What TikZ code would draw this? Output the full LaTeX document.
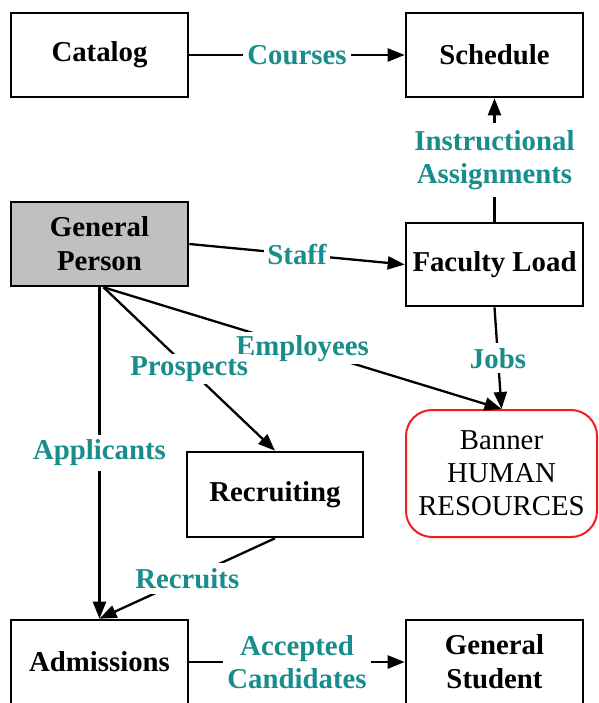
\documentclass[tikz,border=0pt]{standalone}
\usepackage{fontspec}
\setmainfont{Liberation Serif}
\usetikzlibrary{arrows.meta}
\definecolor{flowteal}{RGB}{25,140,140}
\definecolor{boxgray}{RGB}{192,192,192}
\definecolor{bannerred}{RGB}{240,30,30}
\begin{document}
\begin{tikzpicture}[x=1pt,y=-1pt,
  entity/.style={draw=black, line width=2.6pt, fill=white,
    minimum width=177pt, minimum height=84pt, align=center, inner sep=0pt,
    font=\fontsize{28.8}{34}\selectfont\bfseries},
  system/.style={draw=bannerred, line width=2pt, rounded corners=26pt, fill=white,
    minimum width=191pt, minimum height=127pt, align=center, inner sep=0pt,
    font=\fontsize{28.8}{33}\selectfont},
  flow/.style={line width=2.3pt, -{Triangle[length=17pt,width=13pt]}},
  lbl/.style={fill=white, text=flowteal, align=center, inner sep=4pt,
    font=\fontsize{28.8}{33}\selectfont\bfseries},
  ]
  \useasboundingbox (0,0) rectangle (598,703);
  \clip (0,0) rectangle (598,703);

  % data stores / modules
  \node[entity] (cat)   at (99.5,55)    {Catalog};
  \node[entity] (sched) at (494.5,55)   {Schedule};
  \node[entity, fill=boxgray] (gp) at (99.5,244) {General\\Person};
  \node[entity, minimum height=83pt] (fl) at (494.5,264.5) {Faculty Load};
  \node[entity, minimum width=176pt, minimum height=85pt] (rec) at (275,494.5) {Recruiting};
  \node[system] (hr) at (501.5,473.5) {Banner\\HUMAN\\RESOURCES};
  \node[entity] (adm)   at (99.5,662)   {Admissions};
  \node[entity] (gs)    at (494.5,662)  {General\\Student};

  % fan-out point under General Person
  \coordinate (fan) at ([xshift=4pt]gp.south);

  % flows
  \draw[flow] (cat.east) -- node[lbl] {Courses} (sched.west);
  \draw[flow] (fl.north) -- node[lbl, inner sep=7pt] {Instructional\\Assignments} (sched.south);
  \draw[flow] (gp.east) -- node[lbl, inner sep=3pt] {Staff} (fl.west);
  \draw[flow] (fl.south) -- node[lbl, inner sep=5pt] {Jobs} (hr.north);
  \draw[flow] (fan) -- node[lbl, inner sep=3pt] {Employees} (hr.north);
  \draw[flow] (fan) -- node[lbl, inner sep=3pt] {Prospects} (rec.north);
  \draw[flow] (gp.south) -- node[lbl, inner sep=5pt] {Applicants} (adm.north);
  \draw[flow] (rec.south) -- node[lbl, inner sep=5pt] {Recruits} (adm.north);
  \draw[flow] (adm.east) -- node[lbl] {Accepted\\Candidates} (gs.west);
\end{tikzpicture}
\end{document}
